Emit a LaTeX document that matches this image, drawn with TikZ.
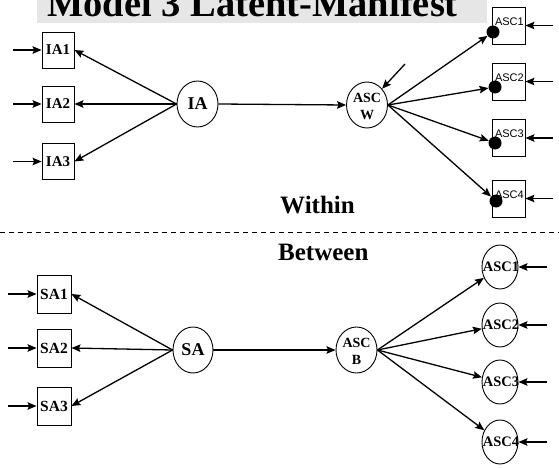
\documentclass[tikz,border=0pt]{standalone}
\usepackage{fontspec}
\setmainfont{Liberation Serif}
\newfontfamily\labsans{Liberation Sans}
\usetikzlibrary{shapes.geometric,arrows.meta}
\definecolor{titlegray}{HTML}{E6E6E6}
\begin{document}
\begin{tikzpicture}[x=1pt,y=-1pt,
  arr/.style={-{Stealth[length=9pt,width=7.5pt,inset=1.5pt]}, line width=1.3pt},
  obs/.style={draw, line width=0.9pt, rectangle, inner sep=0pt,
    font=\bfseries\fontsize{15}{17}\selectfont},
  ibox/.style={obs, minimum width=32pt, minimum height=36pt},
  sbox/.style={obs, minimum width=34pt, minimum height=38pt},
  wbox/.style={draw, line width=0.9pt, rectangle, inner sep=0pt,
    minimum width=33pt, minimum height=37pt},
  wlab/.style={anchor=base east, inner sep=0pt, font=\labsans\fontsize{11}{13}\selectfont},
  wdot/.style={circle, fill=black, inner sep=0pt, minimum size=13pt},
  lat/.style={draw, line width=0.9pt, ellipse, inner sep=0pt},
  big/.style={lat, minimum width=41pt, minimum height=46pt},
  small/.style={lat, minimum width=36pt, minimum height=44pt},
  ltxt/.style={inner sep=0pt, align=center, font=\bfseries\fontsize{14}{17}\selectfont},
  head/.style={inner sep=0pt, anchor=base west, font=\bfseries\fontsize{25}{28}\selectfont}
]
\useasboundingbox (0,0) rectangle (559,468);
\clip (0,0) rectangle (559,468);

% title bar
\fill[titlegray] (37,-30) rectangle (487,23);
\node[inner sep=0pt, anchor=base west, font=\bfseries\fontsize{38.5}{40}\selectfont]
  (title) at (47,17) {Model 3 Latent-Manifest};

% ---------------- within part ----------------
\node[ibox] (ia1) at (58,50) {IA1};
\node[ibox] (ia2) at (58,104) {IA2};
\node[ibox] (ia3) at (58,161.5) {IA3};
\node[big, font=\bfseries\fontsize{18}{20}\selectfont] (ia) at (197.5,104) {IA};
\node[big] (ascw) at (367,105) {};
\node[ltxt] (ascwt) at (367,106) {ASC\\W};

\foreach \i/\y in {1/25.5,2/81.5,3/138,4/198.5}{
  \node[wbox] (w\i) at (508.5,\y) {};
  \node[wlab] (w\i t) at ([xshift=-1.5pt,yshift=-18.5pt]w\i.north east) {ASC\i};
  \coordinate (win\i) at (553,\y);
  \draw[arr] (win\i) -- (w\i.east);
}
\node[wdot] (d1) at (493,32) {};
\node[wdot] (d2) at (495,87) {};
\node[wdot] (d3) at (495,143) {};
\node[wdot] (d4) at (496,201) {};

\foreach \n in {1,2,3}{
  \coordinate (iain\n) at (13,0 |- ia\n.west);
  \draw[arr] (iain\n) -- (ia\n.west);
  \draw[arr] (ia.west) -- (ia\n.east);
}
\draw[arr] (ia.east) -- (ascw.west);
\coordinate (wres) at (405,64);
\draw[arr] (wres) -- (ascw);
\foreach \n in {1,2,3,4}{
  \draw[arr] (ascw.east) -- (d\n);
}

\node[head] (within) at (280,213) {Within};
\coordinate (dl) at (0,232);
\coordinate (dr) at (559,232);
\draw[line width=1pt, dash pattern=on 5pt off 4pt] (dl) -- (dr);
\node[head] (between) at (278,260) {Between};

% ---------------- between part ----------------
\node[sbox, font=\bfseries\fontsize{15.5}{17}\selectfont] (sa1) at (54,294) {SA1};
\node[sbox, font=\bfseries\fontsize{15.5}{17}\selectfont] (sa2) at (54,348) {SA2};
\node[sbox, font=\bfseries\fontsize{15.5}{17}\selectfont] (sa3) at (54,406) {SA3};
\node[big, minimum width=40pt, font=\bfseries\fontsize{18}{20}\selectfont] (sa) at (193,350) {SA};
\node[big] (ascb) at (356.5,350) {};
\node[ltxt] (ascbt) at (356.5,351) {ASC\\B};

\foreach \i/\y in {1/267,2/325,3/382,4/442}{
  \node[small] (b\i) at (500,\y) {};
  \node[ltxt, font=\bfseries\fontsize{14.5}{17}\selectfont] (b\i t) at (501,\y) {ASC\i};
  \coordinate (bin\i) at (547,\y);
  \draw[arr] (bin\i) -- (b\i.east);
  \draw[arr] (ascb.east) -- (b\i);
}

\foreach \n in {1,2,3}{
  \coordinate (sain\n) at (8,0 |- sa\n.west);
  \draw[arr] (sain\n) -- (sa\n.west);
  \draw[arr] (sa.west) -- (sa\n.east);
}
\draw[arr] (sa.east) -- (ascb.west);
\end{tikzpicture}
\end{document}
